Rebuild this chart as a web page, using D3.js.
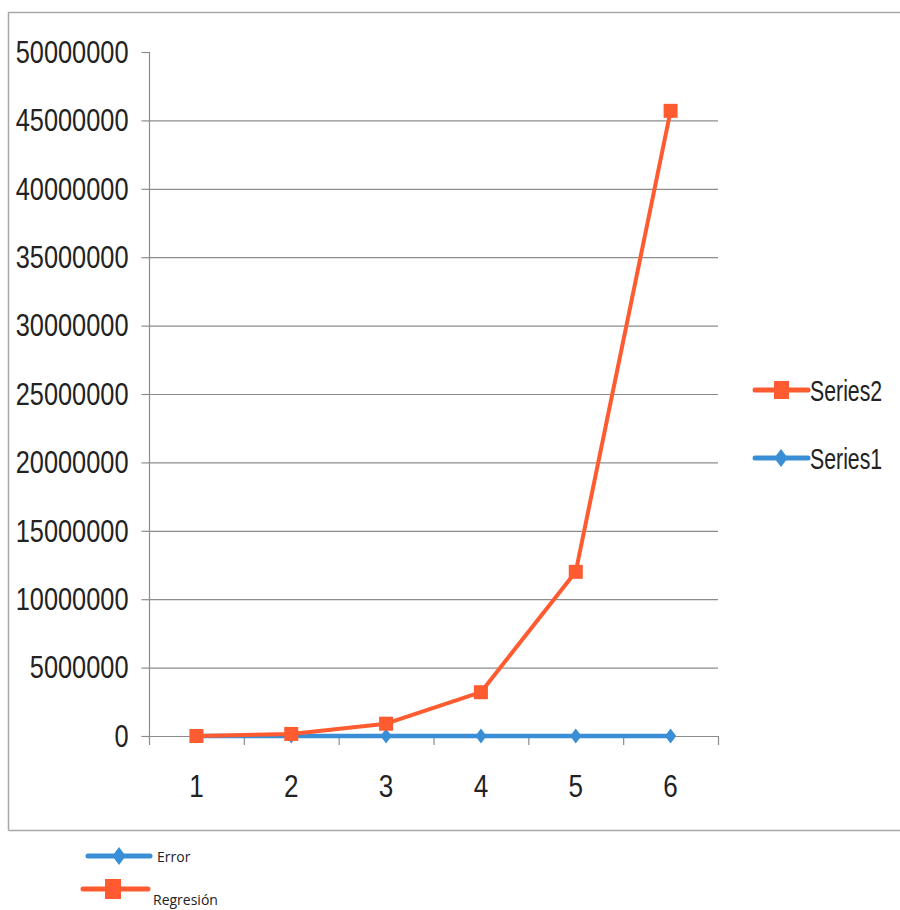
<!DOCTYPE html>
<html><head><meta charset="utf-8">
<script src="https://cdn.jsdelivr.net/npm/d3@7"></script>
<style>
body{margin:0;background:#fff;}
svg{display:block;}
</style></head>
<body>
<svg id="chart" width="900" height="910"></svg>
<script>
const categories = ["1","2","3","4","5","6"];
const series1 = [0, 0, 0, 0, 0, 0];
const series2 = [0, 150000, 900000, 3200000, 12000000, 45700000];
const yTicks = [0,5000000,10000000,15000000,20000000,25000000,30000000,35000000,40000000,45000000,50000000];
const legendRight = ["Series2","Series1"];
const legendBottom = ["Error","Regresión"];

const orange = "#FF5B30", blue = "#3A8ED6", grid = "#8c8c8c";
const FONT = "Liberation Sans, Arial, sans-serif";
const svg = d3.select("#chart");

// narrow text helper: squeeze glyphs horizontally
function narrow(sel, perChar){
  sel.attr("font-family",FONT).attr("lengthAdjust","spacingAndGlyphs")
     .attr("textLength",function(){ return this.textContent.length*perChar; });
}

// outer frame
svg.append("path").attr("d","M8.5,830.5 L8.5,12.5 L900,12.5 M8.5,830.5 L900,830.5")
  .attr("fill","none").attr("stroke","#a8a8a8").attr("stroke-width",1.5);

const x = d3.scaleBand().domain(categories).range([149,718]);
const y = d3.scaleLinear().domain([0,50000000]).range([736,52]);

// gridlines
svg.append("g").selectAll("line").data(yTicks.filter(t=>t>0 && t<50000000)).join("line")
  .attr("x1",149).attr("x2",718).attr("y1",d=>y(d)+0.5).attr("y2",d=>y(d)+0.5)
  .attr("stroke",grid).attr("stroke-width",1.2);

// y axis
const yAxis = svg.append("g").attr("transform","translate(149.5,0)")
  .call(d3.axisLeft(y).tickValues(yTicks).tickSize(8).tickPadding(13).tickFormat(d=>String(d)));
yAxis.select(".domain").attr("stroke",grid).attr("stroke-width",1.2).attr("d","M0,52V736");
yAxis.selectAll(".tick line").attr("stroke",grid).attr("stroke-width",1.2);
yAxis.selectAll(".tick text").attr("font-size",32).attr("fill","#222").call(narrow,14.1);

// x axis
const xAxis = svg.append("g").attr("transform","translate(0,736.5)")
  .call(d3.axisBottom(x).tickSize(0).tickPadding(38));
xAxis.select(".domain").attr("stroke",grid).attr("stroke-width",1.2).attr("d","M149,0H718");
xAxis.selectAll(".tick text").attr("font-size",32).attr("fill","#222").call(narrow,14.5);
// boundary ticks
const bounds = categories.map(c=>x(c)).concat([x.range()[1]]);
svg.append("g").selectAll("line").data(bounds).join("line")
  .attr("x1",d=>d+0.5).attr("x2",d=>d+0.5).attr("y1",736).attr("y2",745)
  .attr("stroke",grid).attr("stroke-width",1.2);

const cx = c => x(c) + x.bandwidth()/2;
const line = d3.line().x((d,i)=>cx(categories[i])).y(d=>y(d));
const diamond = s => `M0,${-s}L${s*0.75},0L0,${s}L${-s*0.75},0Z`;

// series1 (blue)
svg.append("path").datum(series1).attr("d",line).attr("fill","none")
  .attr("stroke",blue).attr("stroke-width",4.5);
svg.append("g").selectAll("path").data(series1).join("path")
  .attr("transform",(d,i)=>`translate(${cx(categories[i])},${y(d)})`)
  .attr("d",diamond(7.5)).attr("fill",blue);

// series2 (orange)
svg.append("path").datum(series2).attr("d",line).attr("fill","none")
  .attr("stroke",orange).attr("stroke-width",4).attr("stroke-linejoin","round");
svg.append("g").selectAll("rect").data(series2).join("rect")
  .attr("x",(d,i)=>cx(categories[i])-7).attr("y",d=>y(d)-7)
  .attr("width",14).attr("height",14).attr("fill",orange);

// right legend
const lr = [{t:legendRight[0],c:orange,m:"sq",y:390},{t:legendRight[1],c:blue,m:"di",y:458}];
lr.forEach(d=>{
  const g = svg.append("g");
  g.append("line").attr("x1",755).attr("x2",808).attr("y1",d.y).attr("y2",d.y)
    .attr("stroke",d.c).attr("stroke-width",5).attr("stroke-linecap","round");
  if(d.m==="sq") g.append("rect").attr("x",774).attr("y",d.y-9).attr("width",15).attr("height",18).attr("fill",d.c);
  else g.append("path").attr("transform",`translate(781,${d.y})`).attr("d",diamond(9)).attr("fill",d.c);
  g.append("text").attr("transform",`translate(810,${d.y+11}) scale(0.71,1)`)
    .attr("font-family",FONT).attr("font-size",30).attr("fill","#222").text(d.t);
});

// bottom legend
const lb = [{t:legendBottom[0],c:blue,m:"di",y:856,x1:88,x2:150,mx:119,tx:157,ty:862},
            {t:legendBottom[1],c:orange,m:"sq",y:889,x1:83,x2:148,mx:113,tx:153,ty:905}];
lb.forEach(d=>{
  const g = svg.append("g");
  g.append("line").attr("x1",d.x1).attr("x2",d.x2).attr("y1",d.y).attr("y2",d.y)
    .attr("stroke",d.c).attr("stroke-width",5).attr("stroke-linecap","round");
  if(d.m==="sq") g.append("rect").attr("x",d.mx-8).attr("y",d.y-10).attr("width",16).attr("height",20).attr("fill",d.c);
  else g.append("path").attr("transform",`translate(${d.mx},${d.y})`).attr("d",diamond(9)).attr("fill",d.c);
  g.append("text").attr("x",d.tx).attr("y",d.ty).attr("font-family","Open Sans, Liberation Sans, sans-serif")
    .attr("font-size",14).attr("font-weight",500).attr("fill","#222").text(d.t);
});
</script>
</body></html>
